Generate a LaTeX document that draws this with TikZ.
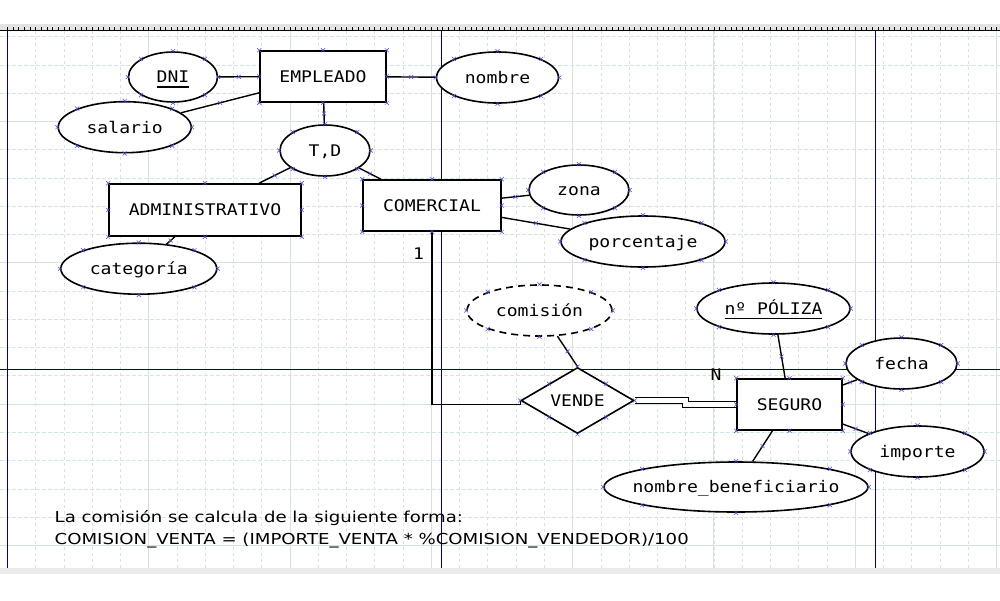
\documentclass[tikz,border=0pt]{standalone}
\usepackage{fontspec}
\newfontfamily\ermono[FakeStretch=1.13]{DejaVu Sans Mono}
\newfontfamily\notefont[FakeStretch=1.2]{DejaVu Sans}
\usetikzlibrary{shapes.geometric, shapes.misc, backgrounds, calc}
\definecolor{gridminor}{RGB}{212,230,228}
\definecolor{gridmajor}{RGB}{212,226,226}
\definecolor{pageline}{RGB}{0,0,140}
\definecolor{cptblue}{RGB}{70,70,230}
\newcommand{\keyul}[1]{\setbox0\hbox{#1}\rlap{\smash{\rule[-5pt]{\wd0}{1.4pt}}}\box0}

\begin{document}
\begin{tikzpicture}[
  x=1pt, y=-1pt,
  erfont/.style={font=\ermono\fontsize{16}{19}\selectfont},
  entity/.style={rectangle, draw, fill=white, line width=1.6pt, inner sep=0pt,
    erfont, text height=11.7pt, text depth=0pt},
  attr/.style={ellipse, draw, fill=white, line width=1.6pt, inner sep=0pt,
    erfont, text height=11.7pt, text depth=0pt},
  derived/.style={attr, dash pattern=on 7pt off 5pt},
  rel/.style={diamond, draw, fill=white, line width=1.6pt, inner sep=0pt,
    erfont, text height=11.7pt, text depth=0pt},
  link/.style={line width=1.4pt},
  totallink/.style={line width=1.2pt, double, double distance=4.4pt},
  card/.style={erfont, inner sep=0pt},
  cpt/.style={cross out, draw=cptblue, line width=0.5pt, minimum size=3.5pt, inner sep=0pt},
  note/.style={font=\notefont\fontsize{15.1}{18}\selectfont, anchor=base west, inner sep=0pt},
]
\useasboundingbox (0,0) rectangle (1000,600);
% ====== ENTITIES ======
\node[entity, minimum width=126, minimum height=51] (empleado) at (323,76.5) {EMPLEADO};
\node[entity, minimum width=192, minimum height=52] (admin) at (205,210) {ADMINISTRATIVO};
\node[entity, minimum width=138, minimum height=51] (comercial) at (432,205.5) {COMERCIAL};
\node[entity, minimum width=105, minimum height=51] (seguro) at (789.5,404.5) {SEGURO};
%
% ====== ATTRIBUTES ======
\node[attr, minimum width=89, minimum height=50] (dni) at (173,77) {\keyul{DNI}};
\node[attr, minimum width=133, minimum height=51] (salario) at (124.7,127.2) {salario};
\node[attr, minimum width=122, minimum height=51] (nombre) at (497.5,77.5) {nombre};
\node[attr, minimum width=90, minimum height=51] (td) at (325,150.5) {T,D};
\node[attr, minimum width=156, minimum height=51] (categoria) at (138.8,268.7) {categoría};
\node[attr, minimum width=100, minimum height=50] (zona) at (579,190) {zona};
\node[attr, minimum width=164, minimum height=51] (porcentaje) at (643,241.5) {porcentaje};
\node[derived, minimum width=145, minimum height=51] (comision) at (539.5,310.5) {comisión};
\node[attr, minimum width=153, minimum height=51] (poliza) at (773.5,308.5) {\keyul{nº PÓLIZA}};
\node[attr, minimum width=111, minimum height=51] (fecha) at (901.5,363.5) {fecha};
\node[attr, minimum width=133, minimum height=51] (importe) at (917.5,451.5) {importe};
\node[attr, minimum width=264, minimum height=50] (benef) at (736,487)
  {\makebox[0pt]{nombre\_beneficiario}};
%
% ====== RELATIONSHIP ======
\node[rel, minimum width=113, minimum height=66] (vende) at (577.5,400.5) {VENDE};
\node[card] (card_one) at (418.5,253.5) {1};
\node[card] (card_n) at (716,375) {N};
%
% ====== CONNECTORS ======
\draw[link] (dni) -- (empleado) node[cpt, midway] {};
\draw[link] (salario) -- (empleado) node[cpt, midway] {};
\draw[link] (empleado) -- (nombre) node[cpt, midway] {};
\draw[link] (empleado) -- (td) node[cpt, midway] {};
\draw[link] (td) -- (admin) node[cpt, midway] {};
\draw[link] (td) -- (comercial) node[cpt, midway] {};
\draw[link] (admin) -- (categoria) node[cpt, midway] {};
\draw[link] (comercial) -- (zona) node[cpt, midway] {};
\draw[link] (comercial) -- (porcentaje) node[cpt, midway] {};
\draw[link] (comision.305) -- (vende.north) node[cpt, midway] {};
\draw[link] (poliza) -- (seguro) node[cpt, midway] {};
\draw[link] (seguro) -- (fecha) node[cpt, midway] {};
\draw[link] (seguro) -- (importe) node[cpt, midway] {};
\draw[link] (seguro) -- (benef) node[cpt, midway] {};
\coordinate (vende_in) at ($(vende.west)+(0,4)$);
\draw[link] (comercial.south) |- (vende_in) -- (vende.west);
\coordinate (jog) at ($(vende.east)!0.5!(seguro.west)$);
\draw[totallink] (vende.east) -| (jog) |- (seguro.west);
%
% ====== CONNECTION POINTS ======
\foreach \n in {empleado, admin, comercial, seguro, dni, salario, nombre, td,
    categoria, zona, porcentaje, comision, poliza, fecha, importe, benef, vende}
  \foreach \a in {north, north east, east, south east, south, south west, west, north west}
    \node[cpt] at (\n.\a) {};
%
% ====== NOTE ======
\node[note] (note_a) at (54.5,522) {La comisión se calcula de la siguiente forma:};
\node[note] (note_b) at (54.5,544.3) {COMISION\_VENTA = (IMPORTE\_VENTA * \%COMISION\_VENDEDOR)/100};
%
% ====== CANVAS (grid, ruler, page breaks) ======
\begin{scope}[on background layer]
  \fill[white] (0,0) rectangle (1000,600);
  \begin{scope}
    \clip (0,30.5) rectangle (1000,567.5);
    \foreach \k in {0,...,35}
      \draw[gridminor, line width=0.7pt, dash pattern=on 3.5pt off 2.5pt]
        ({7.4+28.26*\k},30.5) -- ({7.4+28.26*\k},567.5);
    \foreach \k in {0,...,18}
      \draw[gridminor, line width=0.7pt, dash pattern=on 3.5pt off 2.5pt]
        (0,{36.7+28.26*\k}) -- (1000,{36.7+28.26*\k});
    \foreach \k in {0,5,...,35}
      \draw[gridmajor, line width=0.9pt] ({7.4+28.26*\k},30.5) -- ({7.4+28.26*\k},567.5);
    \foreach \k in {3,8,13,18}
      \draw[gridmajor, line width=0.9pt] (0,{36.7+28.26*\k}) -- (1000,{36.7+28.26*\k});
  \end{scope}
  \fill[gray!22] (0,24) rectangle (1000,30.5);
  \draw[line width=1pt] (0,30.5) -- (1000,30.5);
  \foreach \k in {0,...,176}
    \draw[line width=0.6pt] ({7.4+5.652*\k},30.5) -- ++(0,-3.5);
  \fill[gray!16] (0,567.5) rectangle (1000,573.5);
  \draw[pageline, line width=1pt] (7.3,30.5) -- (7.3,567.5);
  \draw[pageline, line width=1pt] (441,30.5) -- (441,567.5);
  \draw[pageline, line width=1pt] (875.5,30.5) -- (875.5,567.5);
  \draw[pageline, line width=1pt] (0,369) -- (1000,369);
\end{scope}
\end{tikzpicture}
\end{document}
